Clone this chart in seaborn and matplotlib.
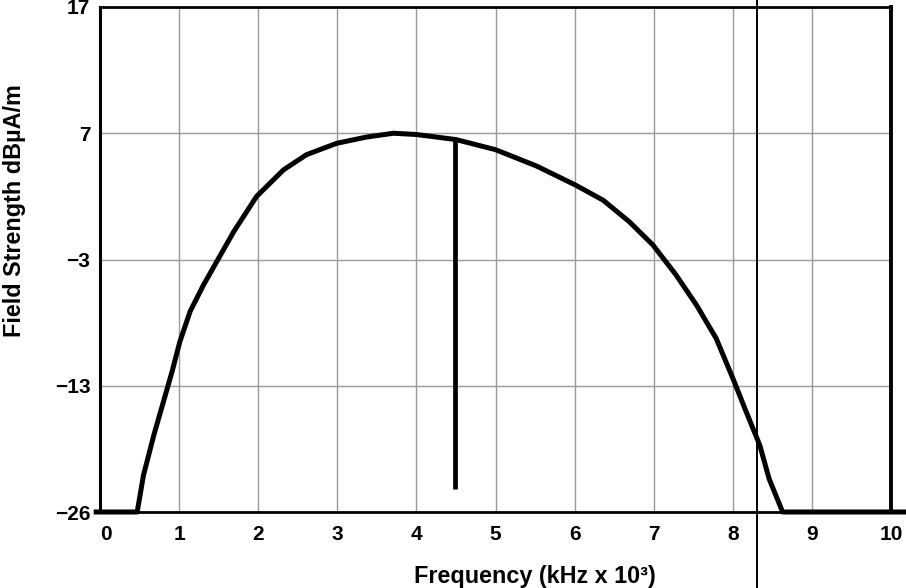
import numpy as np
import pandas as pd
import matplotlib
matplotlib.use("Agg")
import matplotlib.pyplot as plt
import seaborn as sns

# ---- data ----
freq_khz = [-0.08, 0.47, 0.55, 0.68, 0.80, 0.91, 1.01, 1.14, 1.31, 1.50, 1.69,
            1.98, 2.32, 2.61, 2.99, 3.37, 3.71, 4.00, 4.25, 4.50, 5.00, 5.52,
            6.01, 6.36, 6.69, 6.99, 7.28, 7.54, 7.79, 8.00, 8.17, 8.34, 8.46,
            8.63, 10.19]
field_db = [-26, -26, -22.2, -18.1, -14.7, -11.9, -9.5, -7.1, -5.0, -2.9, -0.8,
            2.0, 4.1, 5.3, 6.2, 6.7, 7.0, 6.9, 6.7, 6.5, 5.7, 4.4,
            2.9, 1.7, 0.0, -1.85, -4.2, -6.6, -9.25, -12.4, -15.7, -19.1, -22.6,
            -26, -26]
spike_x = [4.49, 4.49]
spike_db = [6.5, -23.6]
marker_x = 8.30
y_ticks = [-26, -13, -3, 7, 17]
y_tick_labels = ["\u221226", "\u221213", "\u22123", "7", "17"]
x_ticks = list(range(0, 11))
x_tick_labels = [str(v) for v in x_ticks]

curve = pd.DataFrame({"freq": freq_khz, "db": field_db})
spike = pd.DataFrame({"freq": spike_x, "db": spike_db})

sns.set_style("white")
plt.rcParams["font.family"] = ["Liberation Sans", "DejaVu Sans"]

fig = plt.figure(figsize=(9.06, 5.88), dpi=100)
ax = fig.add_axes([100 / 906, 1 - 512 / 588, 791 / 906, 505 / 588])

# piecewise-linear y scale: equally spaced grid for uneven tick values
pos = np.arange(len(y_ticks), dtype=float)
def fwd(v):
    return np.interp(v, y_ticks, pos)
def inv(p):
    return np.interp(p, pos, y_ticks)
ax.set_yscale("function", functions=(fwd, inv))

sns.lineplot(data=curve, x="freq", y="db", ax=ax, sort=False, estimator=None,
             color="black", linewidth=3.6, clip_on=False, zorder=5)
sns.lineplot(data=spike, x="freq", y="db", ax=ax, sort=False, estimator=None,
             color="black", linewidth=3.4, zorder=5)
for ln in ax.lines:
    ln.set_solid_joinstyle("round")
    ln.set_solid_capstyle("butt")

ax.set_xlim(0, 10)
ax.set_ylim(-26, 17)
ax.set_xticks(x_ticks)
ax.set_xticklabels(x_tick_labels)
ax.set_yticks(y_ticks)
ax.set_yticklabels(y_tick_labels)
ax.minorticks_off()
ax.tick_params(axis="both", length=0, labelsize=15, colors="black")
ax.tick_params(axis="x", pad=9)
ax.tick_params(axis="y", pad=7)
for lab in ax.get_xticklabels() + ax.get_yticklabels():
    lab.set_fontweight("bold")
xl = ax.get_xticklabels()
xl[0].set_horizontalalignment("left")

ax.grid(True, color="#9a9a9a", linewidth=1.0)
ax.set_axisbelow(True)

for side, lw in (("left", 2.2), ("bottom", 2.0), ("top", 2.0), ("right", 2.8)):
    ax.spines[side].set_visible(True)
    ax.spines[side].set_color("black")
    ax.spines[side].set_linewidth(lw)
    ax.spines[side].set_zorder(4)

ax.axvline(marker_x, ymin=-76 / 505, ymax=1 + 8 / 505, color="black",
           linewidth=1.4, clip_on=False, zorder=6)

ax.set_xlabel("Frequency (kHz x 10\u00b3)", fontsize=16.8, fontweight="bold", color="black")
ax.set_ylabel("Field Strength dB\u00b5A/m", fontsize=16.8, fontweight="bold", color="black")
ax.xaxis.set_label_coords(0.55, -0.105)
ax.yaxis.set_label_coords(-0.094, 0.596)

fig.savefig("out.png", dpi=100)
